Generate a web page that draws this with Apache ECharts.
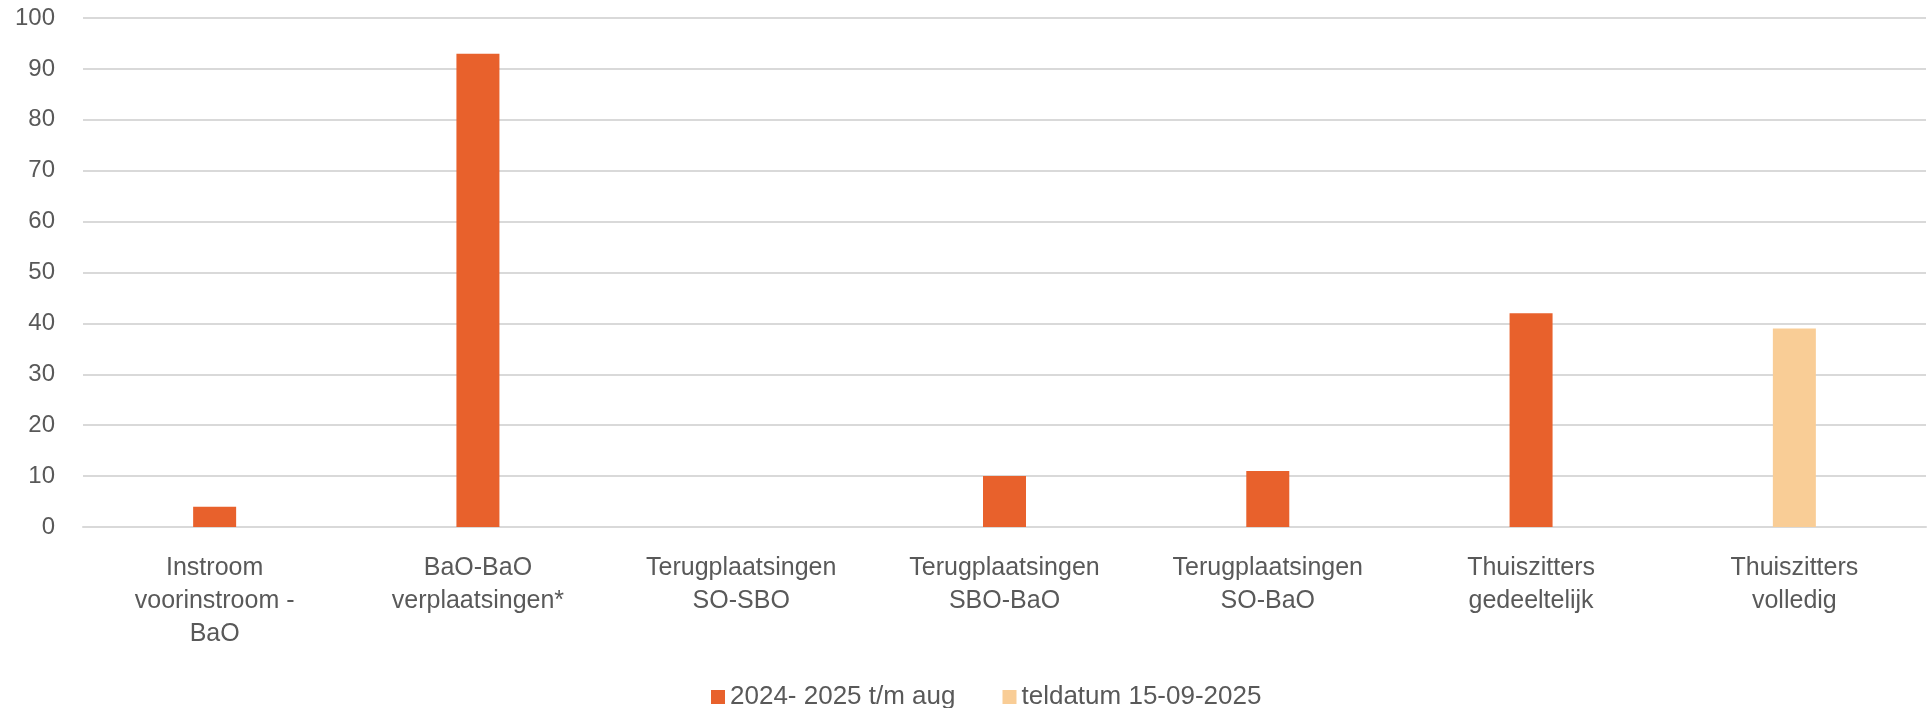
<!DOCTYPE html>
<html>
<head>
<meta charset="utf-8">
<script src="https://cdn.jsdelivr.net/npm/echarts@6/dist/echarts.min.js"></script>
<style>
html,body{margin:0;padding:0;background:#fff;}
#chart{width:1930px;height:708px;}
</style>
</head>
<body>
<div id="chart"></div>
<script>
const categories = [
  "Instroom\nvoorinstroom -\nBaO",
  "BaO-BaO\nverplaatsingen*",
  "Terugplaatsingen\nSO-SBO",
  "Terugplaatsingen\nSBO-BaO",
  "Terugplaatsingen\nSO-BaO",
  "Thuiszitters\ngedeeltelijk",
  "Thuiszitters\nvolledig"
];
const seriesNames = ["2024- 2025 t/m aug", "teldatum 15-09-2025"];
const values2024 = [4, 93, null, 10, 11, 42, null];
const valuesTeldatum = [null, null, null, null, null, null, 39];
const yTicks = [0, 10, 20, 30, 40, 50, 60, 70, 80, 90, 100];

const chart = echarts.init(document.getElementById('chart'));
const font = "Liberation Sans";
chart.setOption({
  animation: false,
  backgroundColor: '#ffffff',
  grid: { left: 83, right: 4, top: 18, bottom: 181, containLabel: false },
  legend: {
    data: seriesNames,
    top: 679,
    left: 706,
    itemWidth: 14,
    itemHeight: 14,
    itemGap: 47,
    icon: 'rect',
    textStyle: { fontFamily: font, fontSize: 26, color: '#595959' }
  },
  xAxis: {
    type: 'category',
    data: categories,
    axisLine: { show: true, lineStyle: { color: '#d9d9d9', width: 2 } },
    axisTick: { show: false },
    axisLabel: {
      interval: 0,
      margin: 25,
      fontFamily: font,
      fontSize: 25,
      lineHeight: 33,
      color: '#595959'
    }
  },
  yAxis: {
    type: 'value',
    min: yTicks[0],
    max: yTicks[yTicks.length - 1],
    interval: 10,
    axisLine: { show: false },
    axisTick: { show: false },
    splitLine: { lineStyle: { color: '#d9d9d9', width: 2 } },
    axisLabel: { margin: 28, fontFamily: font, fontSize: 24, color: '#595959' }
  },
  series: [
    {
      name: seriesNames[0],
      type: 'bar',
      stack: 'all',
      data: values2024,
      barWidth: 43,
      itemStyle: { color: '#E8612C' }
    },
    {
      name: seriesNames[1],
      type: 'bar',
      stack: 'all',
      data: valuesTeldatum,
      barWidth: 43,
      itemStyle: { color: '#F9CD96' }
    }
  ]
});
</script>
</body>
</html>
